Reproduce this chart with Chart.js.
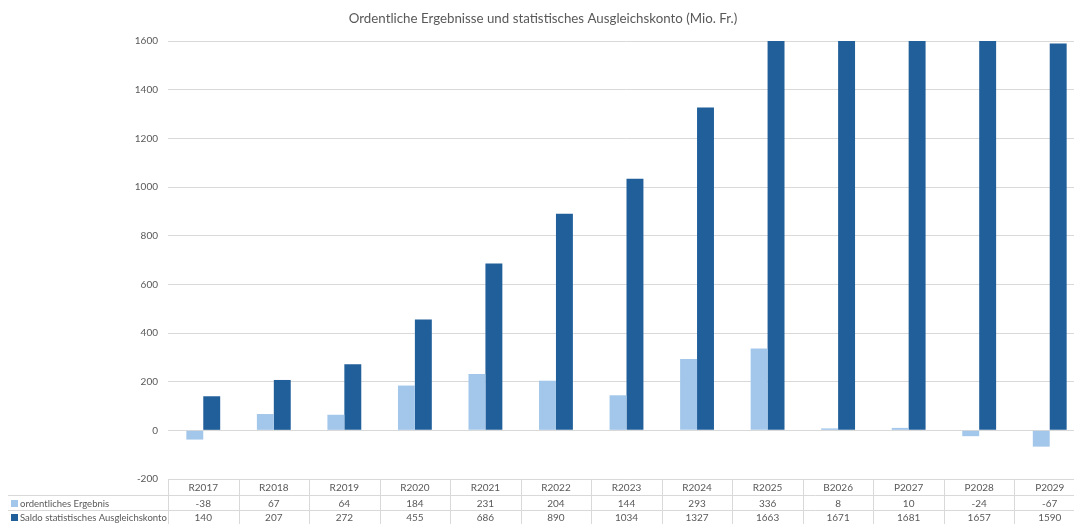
<!DOCTYPE html>
<html>
<head>
<meta charset="utf-8">
<script src="https://cdn.jsdelivr.net/npm/chart.js@4/dist/chart.umd.min.js"></script>
<style>
  html, body { margin: 0; padding: 0; background: #fff; overflow: hidden; }
  #wrap { width: 1074px; height: 524px; overflow: hidden; }
  #c { display: block; }
</style>
</head>
<body>
<div id="wrap"><canvas id="c" width="1090" height="524"></canvas></div>
<script>
const chartTitle = 'Ordentliche Ergebnisse und statistisches Ausgleichskonto (Mio. Fr.)';
const categories = ['R2017','R2018','R2019','R2020','R2021','R2022','R2023','R2024','R2025','B2026','P2027','P2028','P2029'];
const seriesNames = ['ordentliches Ergebnis', 'Saldo statistisches Ausgleichskonto'];
const ordentlichesErgebnis = [-38, 67, 64, 184, 231, 204, 144, 293, 336, 8, 10, -24, -67];
const saldoAusgleichskonto = [140, 207, 272, 455, 686, 890, 1034, 1327, 1663, 1671, 1681, 1657, 1590];
const yMin = -200, yMax = 1600, yStep = 200;

const colLight = '#A3C7EA';
const colDark = '#215F9A';
const textCol = '#595959';
const gridCol = '#D9D9D9';
const FONT = 'Lato, "Open Sans", sans-serif';

// Title and data table underneath the plot area, laid out from the x scale
const tablePlugin = {
  id: 'dataTable',
  afterDraw(chart) {
    const ctx = chart.ctx;
    const area = chart.chartArea;
    const xs = chart.scales.x;
    const n = categories.length;
    const colW = (area.right - area.left) / n;
    const top = area.bottom;
    const rows = [top, top + 16, top + 31, top + 45];
    const labelLeft = 8;

    ctx.save();
    // title
    ctx.fillStyle = textCol;
    ctx.font = '13.3px ' + FONT;
    ctx.textAlign = 'center';
    ctx.textBaseline = 'middle';
    ctx.fillText(chartTitle, 543, 19);

    // grid of the table
    ctx.strokeStyle = gridCol;
    ctx.lineWidth = 1;
    ctx.beginPath();
    ctx.moveTo(area.left, rows[0] + 0.5); ctx.lineTo(area.right, rows[0] + 0.5);
    ctx.moveTo(labelLeft, rows[1] + 0.5); ctx.lineTo(area.right, rows[1] + 0.5);
    ctx.moveTo(labelLeft, rows[2] + 0.5); ctx.lineTo(area.right, rows[2] + 0.5);
    for (let i = 0; i <= n; i++) {
      const x = Math.round(area.left + i * colW) + 0.5;
      ctx.moveTo(x, rows[0]); ctx.lineTo(x, rows[3]);
    }
    ctx.stroke();

    // header and value cells
    ctx.font = '10px ' + FONT;
    ctx.fillStyle = textCol;
    ctx.textAlign = 'center';
    const seriesVals = [ordentlichesErgebnis, saldoAusgleichskonto];
    categories.forEach((cat, i) => {
      const cx = xs.getPixelForValue(i);
      ctx.fillText(cat, cx, (rows[0] + rows[1]) / 2 + 1);
      seriesVals.forEach((vals, r) => {
        ctx.fillText(String(vals[i]), cx, (rows[r + 1] + rows[r + 2]) / 2 + 1);
      });
    });

    // row labels with legend keys
    ctx.textAlign = 'left';
    ctx.font = '9.5px ' + FONT;
    const keyCols = [colLight, colDark];
    seriesNames.forEach((name, r) => {
      const cy = (rows[r + 1] + rows[r + 2]) / 2 + 1;
      ctx.fillStyle = keyCols[r];
      ctx.fillRect(11, Math.round(cy - 4), 7, 7);
      ctx.fillStyle = textCol;
      ctx.fillText(name, 20, cy);
    });
    ctx.restore();
  }
};

new Chart(document.getElementById('c'), {
  type: 'bar',
  data: {
    labels: categories,
    datasets: [
      { label: seriesNames[0], data: ordentlichesErgebnis, backgroundColor: colLight,
        categoryPercentage: 0.48, barPercentage: 1.0 },
      { label: seriesNames[1], data: saldoAusgleichskonto, backgroundColor: colDark,
        categoryPercentage: 0.48, barPercentage: 1.0 }
    ]
  },
  options: {
    responsive: false,
    animation: false,
    layout: { padding: { top: 41, right: 5, bottom: 45, left: 0 } },
    plugins: {
      legend: { display: false },
      title: { display: false },
      tooltip: { enabled: false }
    },
    scales: {
      x: { display: false, offset: true },
      y: {
        min: yMin, max: yMax,
        border: { display: false },
        grid: { color: gridCol, drawTicks: false, lineWidth: 1 },
        ticks: {
          stepSize: yStep, padding: 10, color: textCol,
          font: { family: FONT, size: 10 },
          callback: (v) => String(v)
        },
        afterFit(scale) { scale.width = 168; }
      }
    }
  },
  plugins: [tablePlugin]
});
</script>
</body>
</html>
